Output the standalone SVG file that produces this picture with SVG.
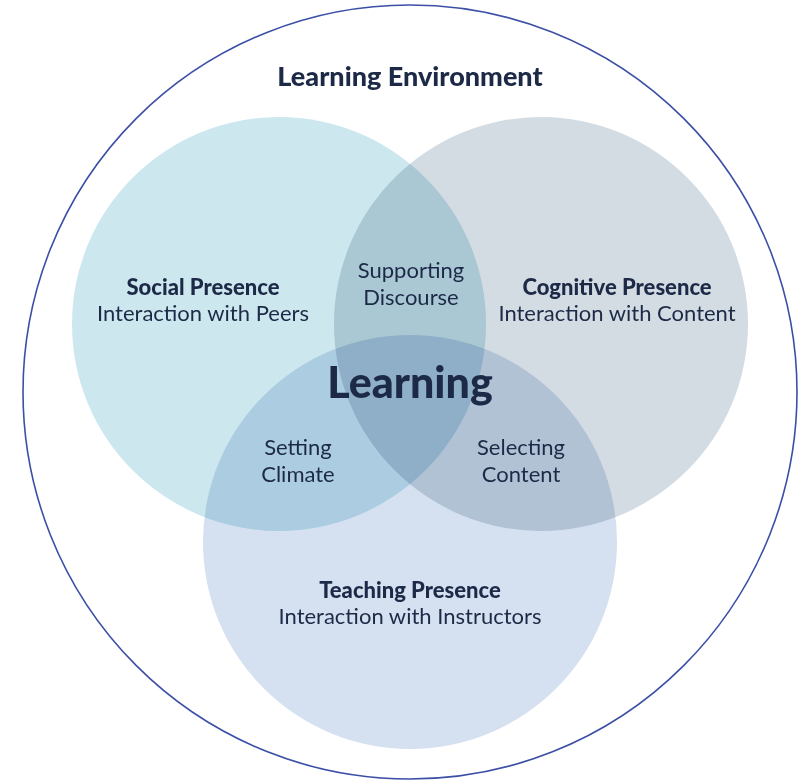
<svg xmlns="http://www.w3.org/2000/svg" width="804" height="781" viewBox="0 0 804 781">
  <style>
    .lbl { font-family: Lato, "Open Sans", "Liberation Sans", sans-serif; fill: #1d2a47; text-anchor: middle; }
    .reg { font-size: 22px; font-weight: 400; }
    .bold { font-size: 22px; font-weight: 900; }
    .title { font-size: 27px; font-weight: 900; }
    .core { font-size: 43px; font-weight: 900; }
    .set { mix-blend-mode: multiply; }
  </style>
  <rect width="804" height="781" fill="#ffffff"/>

  <!-- outer boundary: learning environment -->
  <g id="environment">
    <circle cx="410" cy="392" r="387" fill="none" stroke="#3c4fa6" stroke-width="1.6"/>
    <text class="lbl title" x="410" y="86">Learning Environment</text>
  </g>

  <!-- three overlapping presences -->
  <g id="circles" style="isolation:isolate">
    <circle id="social" class="set" cx="279" cy="324" r="207" fill="#cde7ef"/>
    <circle id="cognitive" class="set" cx="541" cy="324" r="207" fill="#d4dce3"/>
    <circle id="teaching" class="set" cx="410" cy="542" r="207" fill="#d5e1f0"/>
  </g>

  <g id="social-label">
    <text class="lbl bold" x="203" y="295">Social Presence</text>
    <text class="lbl reg" x="203" y="321">Interaction with Peers</text>
  </g>
  <g id="cognitive-label">
    <text class="lbl bold" x="617" y="295">Cognitive Presence</text>
    <text class="lbl reg" x="617" y="321">Interaction with Content</text>
  </g>
  <g id="teaching-label">
    <text class="lbl bold" x="410" y="598">Teaching Presence</text>
    <text class="lbl reg" x="410" y="624">Interaction with Instructors</text>
  </g>
  <g id="discourse">
    <text class="lbl reg" x="411" y="278">Supporting</text>
    <text class="lbl reg" x="411" y="305">Discourse</text>
  </g>
  <g id="climate">
    <text class="lbl reg" x="298" y="455">Setting</text>
    <text class="lbl reg" x="298" y="482">Climate</text>
  </g>
  <g id="content">
    <text class="lbl reg" x="521" y="455">Selecting</text>
    <text class="lbl reg" x="521" y="482">Content</text>
  </g>
  <g id="learning">
    <text class="lbl core" x="410" y="398">Learning</text>
  </g>
</svg>
